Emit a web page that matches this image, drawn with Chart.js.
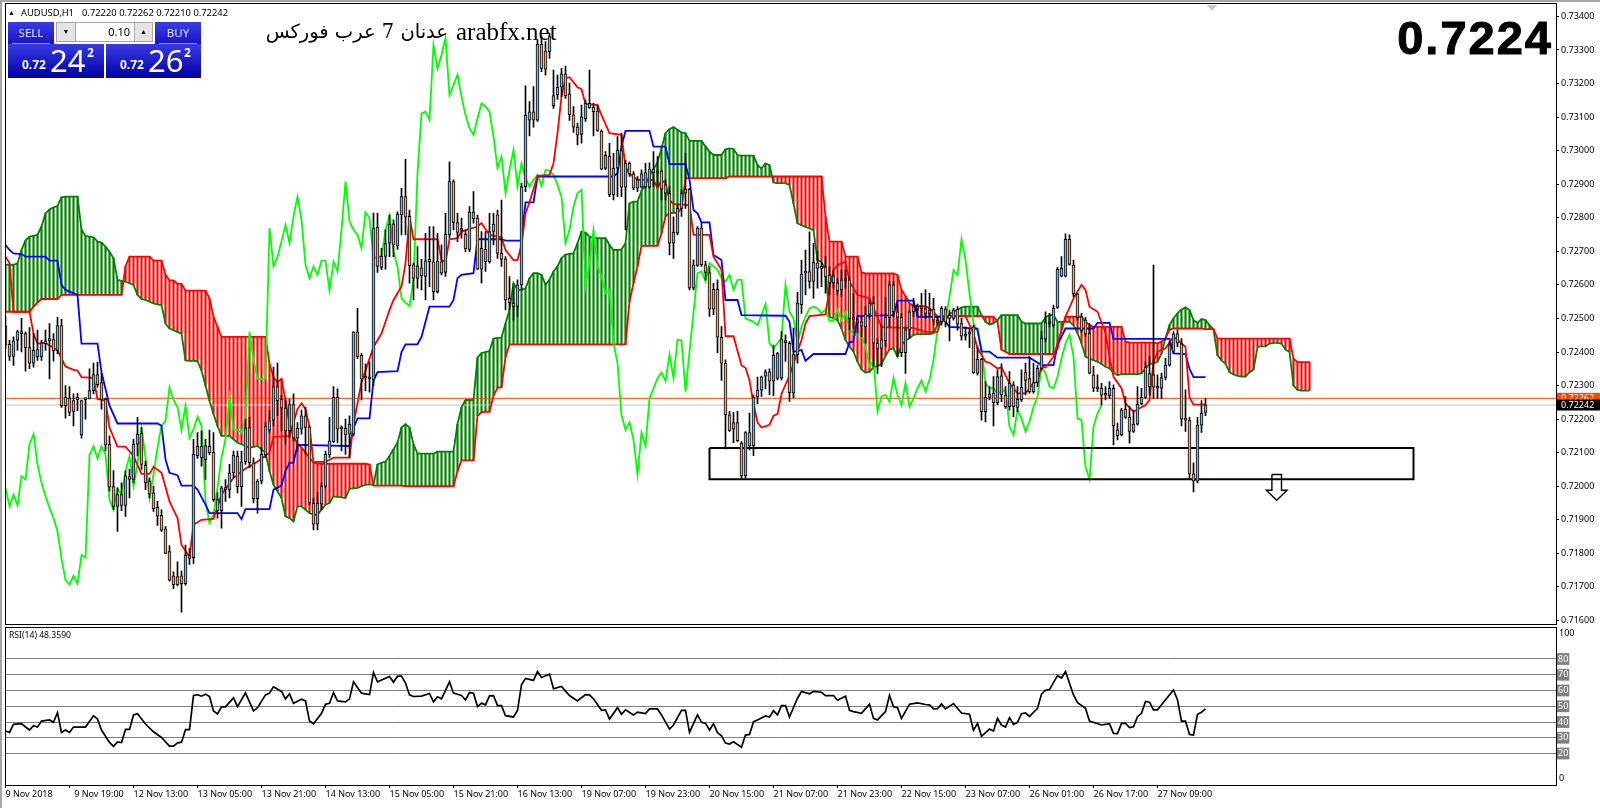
<!DOCTYPE html>
<html>
<head>
<meta charset="utf-8">
<title>AUDUSD,H1</title>
<script src="https://cdn.jsdelivr.net/npm/chart.js@4"></script>
<style>
    html, body { margin: 0; padding: 0; background: #fff; width: 1600px; height: 808px; overflow: hidden; font-family: "Noto Sans", sans-serif; }
    canvas { position: absolute; left: 0; display: block; }
    #mainChart { top: 0; }
    #rsiChart { top: 625px; }
    .abs { position: absolute; white-space: nowrap; }
    .strip { position: absolute; background: #a6a6a6; }
    .btn { position: absolute; background: linear-gradient(#3c3ce6, #1515c8); color: #e4e4ff; font-size: 11.5px; text-align: center; }
    .btn span { display: block; margin: 3px 4px 0; padding-bottom: 2px; height: 16px; line-height: 16px; border-bottom: 1px solid #9a9ae8; }
    .quote { position: absolute; background: linear-gradient(#3a3ae4, #0000a4); color: #fff; }
    .quote b { position: absolute; }
    .spin { position: absolute; background: #e4e4e4; border: 1px solid #a8a8a8; box-sizing: border-box; font-size: 7px; text-align: center; line-height: 18px; }
</style>
</head>
<body>
<canvas id="mainChart" width="1600" height="625"></canvas>
<canvas id="rsiChart" width="1600" height="183"></canvas>

<div class="strip" style="left:0;top:0;width:1600px;height:2px"></div>
<div class="strip" style="left:0;top:0;width:2px;height:808px"></div>
<div class="abs" style="left:1207px;top:5px;width:0;height:0;border-left:5px solid transparent;border-right:5px solid transparent;border-top:6px solid #c8c8c8"></div>

<!-- chart header -->
<div class="abs" style="left:8px;top:9px;font-size:7px;line-height:8px">▲</div>
<div class="abs" style="left:21px;top:6px;font-size:9.4px;line-height:13px;color:#000">AUDUSD,H1</div>
<div class="abs" style="left:82px;top:6px;font-size:9.4px;line-height:13px;color:#000">0.72220 0.72262 0.72210 0.72242</div>

<!-- one click trading panel -->
<div class="btn" style="left:8px;top:22px;width:46px;height:22px"><span>SELL</span></div>
<div class="btn" style="left:155px;top:22px;width:46px;height:22px"><span>BUY</span></div>
<div class="spin" style="left:56px;top:22px;width:20px;height:20px">▼</div>
<div class="abs" style="left:76px;top:22px;width:58px;height:20px;border-top:1px solid #a8a8a8;border-bottom:1px solid #a8a8a8;box-sizing:border-box;background:#fff;font-size:11px;line-height:17px;text-align:right;padding-right:4px">0.10</div>
<div class="spin" style="left:134px;top:22px;width:19px;height:20px">▲</div>
<div class="quote" style="left:8px;top:44px;width:96px;height:34px">
    <b style="left:14px;top:12px;font-size:12px;line-height:18px">0.72</b>
    <b style="left:42px;top:-3px;font-size:31px;line-height:38px;font-weight:400">24</b>
    <b style="left:79px;top:1px;font-size:12px;line-height:16px">2</b>
</div>
<div class="quote" style="left:106px;top:44px;width:95px;height:34px">
    <b style="left:14px;top:12px;font-size:12px;line-height:18px">0.72</b>
    <b style="left:42px;top:-3px;font-size:31px;line-height:38px;font-weight:400">26</b>
    <b style="left:78px;top:1px;font-size:12px;line-height:16px">2</b>
</div>

<!-- texts written over the chart -->
<div class="abs" dir="rtl" style="left:268px;width:180px;top:17px;font-family:'DejaVu Serif','DejaVu Sans',serif;font-size:19.5px;line-height:30px;color:#000;text-align:right">عدنان 7 عرب فوركس</div>
<div class="abs" style="left:456px;top:17px;font-family:'Liberation Serif',serif;font-size:25px;line-height:30px;color:#000">arabfx.net</div>
<div class="abs" style="right:47px;top:11px;font-family:'Liberation Sans',sans-serif;font-weight:700;font-size:47px;line-height:54px;letter-spacing:2px;color:#000;-webkit-text-stroke:1px #000">0.7224</div>
<div class="abs" style="left:9px;top:629px;font-size:8.6px;line-height:13px;color:#000">RSI(14) 48.3590</div>

<script>
// All prices are in 1/100000 units (72242 = 0.72242)
const opens = [
    72477,72423,72387,72435,72455,72455,72413,72367,72385,72385,
    72425,72433,72437,72405,72479,72265,72263,72255,72257,72153,
    72259,72260,72285,72333,72309,72260,72125,71999,71940,71975,
    71943,72029,72020,72125,72157,72063,72015,71980,71937,71913,
    71873,71805,71733,71731,71733,71710,71793,71787,72091,72119,
    72079,72120,72101,71960,71927,71993,71990,72040,72090,71999,
    72073,72175,72070,71963,72015,72093,72167,72197,72297,72259,
    72233,72165,72243,72143,72170,72210,72177,71950,71887,71947,
    72000,72093,72133,72265,72173,72173,72155,72155,72460,72390,
    72325,72320,72317,72772,72652,72685,72724,72782,72716,72809,
    72863,72804,72660,72619,72651,72625,72676,72669,72580,72669,
    72637,72749,72908,72786,72764,72751,72706,72817,72799,72647,
    72706,72669,72759,72809,72694,72678,72560,72545,72536,72600,
    72893,73091,73116,73091,73317,73297,73295,73134,73166,73189,
    73229,73169,73107,73070,73048,73095,73128,73129,73118,73058,
    72947,72984,72868,72948,73000,72891,72962,72931,72888,72891,
    72891,72891,72945,72938,72939,72898,72873,72724,72754,72828,
    72873,72885,72590,72658,72769,72660,72637,72587,72587,72444,
    72367,72213,72170,72190,72128,72031,72160,72121,72266,72286,
    72328,72341,72313,72321,72322,72434,72426,72277,72392,72540,
    72635,72640,72610,72666,72652,72654,72629,72606,72606,72585,
    72615,72615,72500,72493,72477,72475,72513,72545,72426,72411,
    72434,72503,72600,72520,72503,72398,72466,72520,72535,72533,
    72529,72515,72528,72495,72490,72528,72510,72500,72527,72485,
    72450,72453,72475,72336,72378,72222,72265,72277,72249,72329,
    72272,72237,72302,72235,72257,72339,72321,72282,72309,72351,
    72438,72485,72480,72533,72626,72626,72736,72659,72573,72505,
    72495,72456,72332,72292,72292,72275,72269,72292,72168,72153,
    72229,72205,72163,72185,72245,72265,72336,72332,72295,72292,
    72324,72361,72402,72454,72424,72200,72197,72037,72015,72182,
    72220
];
const highs = [
    72505,72435,72445,72465,72500,72460,72473,72455,72465,72435,
    72465,72485,72455,72503,72497,72300,72297,72275,72277,72257,
    72260,72350,72367,72370,72337,72263,72150,72047,71995,72010,
    72045,72050,72140,72205,72175,72075,72025,72000,71955,71930,
    71880,71823,71745,71775,71747,71825,71815,72140,72160,72165,
    72140,72167,72160,71980,72000,72020,72065,72105,72105,72105,
    72200,72205,72085,72020,72115,72190,72225,72355,72367,72270,
    72260,72260,72275,72190,72227,72235,72180,71965,71980,72010,
    72105,72205,72297,72290,72180,72200,72210,72460,72530,72395,
    72365,72370,72814,72813,72709,72764,72808,72794,72818,72888,
    72974,72823,72665,72714,72676,72754,72774,72774,72754,72719,
    72813,72967,72913,72813,72799,72764,72833,72878,72808,72759,
    72759,72813,72813,72823,72853,72684,72625,72595,72615,72903,
    73193,73146,73191,73330,73340,73325,73350,73240,73225,73245,
    73252,73201,73131,73082,73136,73151,73240,73141,73136,73062,
    72997,73022,72992,73042,73052,72972,72967,72938,72923,72943,
    72962,72964,72997,72982,72943,72913,72893,72803,72838,72883,
    72992,72888,72675,72774,72784,72670,72655,72605,72615,72476,
    72377,72223,72220,72223,72133,72163,72218,72272,72325,72328,
    72347,72350,72421,72399,72461,72451,72431,72471,72578,72674,
    72704,72758,72724,72699,72669,72684,72654,72644,72619,72644,
    72644,72625,72575,72503,72505,72535,72555,72565,72441,72480,
    72563,72609,72609,72545,72515,72475,72525,72560,72543,72575,
    72585,72575,72560,72505,72535,72535,72525,72530,72535,72500,
    72475,72470,72480,72415,72381,72312,72297,72327,72347,72365,
    72297,72342,72312,72297,72347,72367,72386,72367,72361,72461,
    72520,72515,72540,72652,72684,72752,72749,72674,72575,72515,
    72503,72485,72357,72332,72307,72297,72312,72302,72188,72232,
    72267,72237,72227,72297,72292,72371,72386,72659,72332,72337,
    72381,72431,72461,72466,72440,72287,72205,72070,72205,72255,
    72262
];
const lows = [
    72410,72375,72360,72405,72400,72343,72350,72355,72375,72375,
    72405,72320,72373,72395,72235,72203,72210,72180,72225,72143,
    72200,72260,72275,72295,72230,72105,71985,71930,71865,71927,
    71910,71965,72010,72090,72050,71990,71965,71925,71883,71865,
    71800,71717,71695,71703,71625,71705,71767,71770,72083,72060,
    72020,72093,71955,71905,71875,71955,71965,72025,71980,71940,
    72065,72055,71950,71920,72007,72085,72160,72180,72210,72165,
    72125,72145,72135,72105,72155,72095,71945,71870,71870,71930,
    71995,72085,72130,72130,72105,72095,72085,72150,72380,72257,
    72285,72280,72300,72637,72645,72647,72684,72684,72706,72749,
    72749,72605,72555,72590,72585,72555,72595,72555,72575,72630,
    72625,72739,72764,72729,72739,72699,72699,72784,72645,72605,
    72640,72665,72719,72679,72655,72526,72526,72494,72505,72585,
    72878,73044,73070,73087,73235,73225,73275,73126,73153,73161,
    73156,73090,73054,73017,73022,73087,73126,73044,73057,72943,
    72943,72863,72853,72863,72863,72764,72923,72883,72878,72888,
    72888,72888,72893,72893,72853,72853,72689,72679,72749,72804,
    72828,72585,72585,72655,72655,72615,72506,72511,72398,72315,
    72111,72163,72130,72133,72024,72024,72108,72091,72246,72268,
    72290,72273,72270,72317,72317,72372,72253,72263,72367,72515,
    72570,72590,72560,72590,72595,72575,72570,72590,72570,72565,
    72590,72466,72470,72456,72446,72426,72500,72356,72336,72356,
    72416,72475,72505,72386,72386,72336,72441,72505,72505,72510,
    72500,72505,72480,72480,72480,72475,72433,72495,72465,72435,
    72435,72413,72336,72331,72197,72192,72257,72180,72242,72252,
    72232,72227,72207,72222,72252,72272,72277,72277,72297,72346,
    72431,72475,72475,72530,72624,72624,72659,72565,72495,72458,
    72446,72335,72282,72282,72242,72257,72262,72123,72138,72150,
    72202,72128,72160,72182,72242,72262,72272,72262,72262,72262,
    72317,72358,72396,72416,72180,72163,72020,71983,72010,72160,
    72210
];
const closes = [
    72420,72387,72433,72461,72461,72413,72367,72405,72407,72427,
    72433,72440,72403,72479,72240,72240,72220,72223,72265,72255,
    72258,72285,72333,72303,72257,72123,71997,71940,71975,71943,
    72031,72020,72125,72155,72065,72010,71977,71933,71911,71869,
    71800,71720,71707,71707,71710,71795,71785,72095,72119,72085,
    72121,72100,71960,71927,71995,71990,72040,72093,71999,72073,
    72173,72070,71963,72015,72095,72179,72195,72297,72255,72233,
    72165,72243,72143,72173,72210,72175,71950,71887,71950,72000,
    72095,72135,72265,72170,72171,72153,72185,72460,72387,72320,
    72322,72325,72769,72655,72686,72724,72781,72719,72811,72863,
    72802,72657,72620,72657,72627,72672,72669,72580,72671,72635,
    72751,72908,72786,72756,72762,72707,72817,72797,72647,72709,
    72669,72759,72781,72694,72676,72555,72547,72536,72600,72893,
    73106,73116,73091,73317,73245,73243,73340,73164,73189,73229,
    73163,73107,73070,73047,73101,73141,73141,73116,73060,72945,
    72986,72869,72948,73002,72891,72962,72931,72888,72913,72931,
    72935,72945,72935,72933,72885,72873,72724,72757,72828,72873,
    72885,72590,72660,72769,72660,72637,72528,72528,72444,72367,
    72213,72166,72190,72136,72031,72160,72120,72266,72286,72326,
    72341,72313,72391,72395,72438,72428,72279,72392,72546,72632,
    72640,72610,72667,72649,72649,72624,72606,72627,72583,72615,
    72613,72500,72497,72487,72490,72513,72545,72426,72411,72436,
    72503,72600,72520,72503,72398,72466,72520,72535,72530,72529,
    72515,72525,72495,72488,72530,72490,72500,72525,72483,72447,
    72447,72460,72338,72378,72222,72265,72275,72249,72327,72272,
    72237,72307,72237,72259,72295,72315,72282,72309,72351,72441,
    72488,72491,72530,72646,72649,72736,72661,72573,72503,72464,
    72454,72337,72292,72290,72271,72271,72292,72180,72151,72227,
    72205,72163,72185,72244,72265,72354,72297,72295,72292,72324,
    72361,72421,72454,72426,72200,72197,72037,72015,72182,72217,
    72242
];

// Ichimoku: Chikou per bar
const chikou = [
    71995,71940,71975,71943,72030,72020,72125,72155,72065,72010,
    71970,71935,71905,71865,71785,71720,71707,71733,71710,71795,
    71787,72093,72119,72083,72119,72095,71960,71930,71993,71975,
    72045,72090,72000,72065,72173,72085,71965,72035,72115,72180,
    72195,72295,72257,72235,72167,72240,72143,72170,72207,72180,
    71955,71890,71915,71995,72085,72140,72265,72170,72167,72160,
    72205,72460,72375,72320,72320,72320,72769,72655,72684,72729,
    72779,72724,72804,72863,72794,72660,72620,72655,72630,72672,
    72672,72583,72669,72640,72764,72908,72789,72764,72749,72709,
    72816,72799,72679,72684,72684,72764,72806,72699,72655,72560,
    72547,72537,72615,72933,73111,73116,73091,73315,73245,73285,
    73335,73166,73196,73226,73161,73106,73067,73047,73096,73141,
    73131,73116,73042,72948,72982,72873,72943,73002,72893,72962,
    72918,72893,72913,72928,72895,72943,72940,72928,72898,72863,
    72724,72764,72833,72873,72883,72595,72665,72764,72655,72625,
    72575,72585,72426,72367,72212,72168,72190,72138,72035,72160,
    72120,72262,72292,72322,72339,72314,72392,72322,72437,72434,
    72282,72400,72518,72635,72640,72610,72665,72655,72645,72620,
    72610,72630,72585,72615,72615,72500,72495,72490,72480,72510,
    72543,72426,72411,72426,72441,72600,72520,72500,72426,72475,
    72505,72530,72535,72530,72515,72527,72493,72493,72527,72495,
    72517,72470,72450,72453,72450,72416,72356,72376,72222,72267,
    72272,72252,72322,72272,72242,72307,72237,72262,72292,72315,
    72282,72317,72376,72465,72490,72495,72565,72644,72629,72736,
    72674,72575,72485,72460,72411,72307,72292,72292,72277,72282,
    72287,72177,72153,72227,72202,72163,72192,72237,72267,72356,
    72336,72297,72292,72326,72381,72426,72451,72386,72202,72197,
    72058,72021,72178,72217,72242
];

// Senkou A and B per bar, 26 bars past the last candle
const senkouA = [
    72660,72660,72660,72664,72704,72732,72744,72746,72749,72774,
    72813,72825,72831,72835,72861,72863,72863,72863,72863,72764,
    72746,72744,72742,72729,72726,72714,72699,72679,72615,72612,
    72610,72605,72600,72570,72558,72555,72550,72545,72542,72540,
    72485,72470,72465,72460,72455,72375,72374,72374,72373,72345,
    72300,72255,72215,72180,72150,72150,72150,72140,72130,72125,
    72120,72115,72117,72120,72110,72100,72045,72005,71985,71965,
    71910,71905,71895,71940,71940,71930,71920,71915,71915,71930,
    71945,71950,71970,71968,71967,71965,71993,71994,71995,72000,
    72005,72005,72005,72065,72070,72073,72090,72110,72130,72175,
    72185,72175,72125,72097,72097,72097,72097,72097,72103,72103,
    72103,72103,72103,72185,72235,72257,72257,72257,72383,72397,
    72400,72403,72440,72442,72443,72485,72525,72605,72585,72585,
    72590,72620,72635,72635,72630,72600,72615,72640,72655,72680,
    72690,72692,72694,72724,72759,72756,72744,72739,72739,72739,
    72739,72719,72704,72704,72706,72724,72843,72848,72848,72880,
    72900,72925,72945,72965,73007,73052,73064,73070,73062,73054,
    73052,73029,73029,73029,73029,73012,72997,72987,72987,72987,
    73004,73007,73005,72987,72985,72985,72985,72985,72957,72947,
    72962,72957,72905,72903,72903,72903,72898,72843,72783,72778,
    72773,72768,72763,72674,72669,72644,72505,72500,72495,72470,
    72436,72416,72401,72371,72348,72339,72341,72354,72358,72364,
    72388,72408,72411,72386,72421,72434,72441,72451,72453,72453,
    72453,72453,72456,72480,72490,72495,72513,72520,72525,72533,
    72535,72535,72535,72535,72510,72490,72482,72485,72495,72510,
    72510,72510,72510,72510,72490,72485,72485,72485,72485,72485,
    72503,72510,72510,72490,72490,72490,72490,72480,72456,72426,
    72386,72381,72376,72371,72364,72356,72351,72338,72331,72334,
    72334,72334,72334,72334,72336,72351,72364,72366,72371,72396,
    72441,72480,72500,72515,72527,72533,72525,72495,72487,72498,
    72495,72480,72467,72390,72375,72365,72340,72333,72329,72327,
    72327,72340,72347,72415,72417,72417,72425,72427,72427,72425,
    72407,72400,72300,72287,72285,72285,72285
];
const senkouB = [
    72520,72520,72520,72520,72520,72520,72520,72535,72547,72558,
    72558,72558,72558,72558,72570,72570,72570,72570,72570,72570,
    72570,72570,72570,72570,72570,72570,72570,72570,72570,72570,
    72655,72684,72684,72684,72684,72684,72684,72672,72672,72672,
    72630,72613,72613,72603,72603,72583,72583,72583,72583,72583,
    72583,72560,72505,72475,72445,72445,72445,72445,72445,72445,
    72445,72445,72445,72445,72445,72445,72365,72325,72310,72320,
    72255,72185,72150,72125,72115,72100,72085,72070,72067,72067,
    72067,72067,72067,72067,72067,72067,72067,72067,72067,72067,
    72067,72065,72002,72002,72002,72002,72002,72002,72002,72002,
    72000,72000,72000,72000,72000,72000,72000,72000,72000,72000,
    72000,72000,72000,72045,72077,72077,72077,72077,72210,72220,
    72222,72222,72270,72293,72295,72385,72423,72423,72423,72423,
    72423,72423,72423,72423,72423,72423,72423,72423,72423,72423,
    72423,72423,72423,72423,72423,72423,72423,72423,72423,72423,
    72423,72423,72423,72423,72423,72423,72550,72605,72655,72716,
    72716,72716,72716,72716,72754,72804,72814,72815,72815,72828,
    72918,72918,72918,72918,72918,72918,72918,72918,72918,72918,
    72918,72923,72923,72923,72923,72923,72923,72923,72923,72923,
    72923,72923,72923,72923,72923,72923,72923,72923,72923,72923,
    72923,72923,72923,72923,72923,72803,72729,72729,72729,72729,
    72684,72684,72684,72684,72637,72634,72634,72634,72634,72634,
    72634,72634,72634,72629,72585,72567,72545,72537,72537,72537,
    72537,72530,72520,72505,72507,72507,72507,72507,72507,72507,
    72507,72507,72507,72507,72507,72505,72505,72505,72490,72406,
    72401,72394,72394,72394,72394,72394,72394,72394,72394,72394,
    72394,72394,72394,72411,72466,72505,72505,72505,72505,72505,
    72490,72480,72475,72475,72475,72475,72475,72475,72475,72475,
    72431,72428,72428,72428,72428,72428,72428,72428,72426,72431,
    72441,72466,72470,72470,72470,72470,72470,72470,72470,72470,
    72468,72468,72468,72440,72440,72440,72440,72440,72440,72440,
    72440,72440,72440,72440,72440,72440,72440,72440,72440,72440,
    72440,72440,72380,72370,72370,72370,72370
];

// Tenkan and Kijun turning points (bar, price)
const tenkanBars = [0,1,2,6,7,8,10,13,15,17,18,19,22,23,25,26,28,30,32,34,36,37,39,41,43,44,46,47,49,52,54,57,60,62,66,67,71,73,74,75,76,77,80,82,86,87,89,92,94,96,97,99,100,101,102,108,109,110,111,113,114,118,119,121,124,125,127,128,129,130,131,133,136,137,138,139,140,141,143,144,145,148,149,151,154,155,156,158,162,163,164,165,166,167,171,172,176,177,179,180,182,184,185,186,187,188,189,191,192,193,194,196,199,200,201,205,206,207,208,210,211,213,216,219,223,227,230,233,234,240,242,243,245,246,248,249,251,252,253,255,257,258,259,260,262,263,265,267,269,270,271,273,275,276,277,279,280,282,285,286,287,288,290,292,294,295,296,297,300];
const tenkanValues = [72684,72665,72520,72520,72455,72425,72427,72405,72357,72347,72345,72325,72323,72260,72255,72175,72118,72118,72090,72037,72037,72058,72040,71955,71905,71825,71790,71885,71900,71903,71975,72025,72053,72065,72100,72147,72150,72230,72247,72230,72177,72072,72073,72085,72085,72185,72310,72415,72455,72525,72555,72595,72665,72804,72736,72736,72674,72669,72736,72739,72759,72774,72784,72749,72742,72704,72674,72674,72719,72813,72846,72925,72928,72962,73052,73161,73216,73219,73189,73183,73139,73136,73106,73052,73047,72952,72931,72913,72913,72888,72913,72903,72853,72841,72838,72749,72749,72684,72645,72447,72447,72360,72353,72315,72245,72190,72175,72183,72210,72215,72275,72330,72436,72485,72507,72512,72590,72644,72659,72669,72610,72570,72560,72475,72472,72472,72460,72460,72505,72507,72455,72411,72371,72368,72351,72354,72307,72292,72277,72277,72307,72312,72356,72354,72386,72426,72505,72560,72600,72585,72535,72520,72456,72386,72326,72292,72247,72222,72242,72257,72371,72401,72411,72446,72426,72415,72265,72243,72243];
const kijunBars = [0,1,2,4,5,10,11,13,14,15,18,19,23,24,26,28,38,39,40,41,43,44,47,48,50,51,58,59,60,66,67,69,70,71,72,73,86,87,88,91,92,93,98,99,100,103,104,106,111,112,113,114,117,118,124,125,129,130,132,133,152,153,154,155,161,162,165,166,170,171,172,173,174,176,177,179,180,183,184,195,196,197,198,199,200,202,210,211,212,213,222,223,227,228,234,236,243,244,246,248,256,259,262,263,265,272,273,276,277,291,292,295,296,297,300];
const kijunValues = [72719,72704,72694,72692,72684,72684,72672,72672,72600,72585,72570,72425,72425,72340,72240,72187,72187,72180,72080,72040,72033,72002,72002,71990,71945,71920,71920,71902,71932,71932,71990,72002,72045,72070,72070,72123,72120,72173,72202,72202,72315,72340,72343,72400,72423,72423,72445,72535,72535,72555,72620,72630,72635,72736,72736,72732,72732,72846,72846,72923,72923,72933,73012,73059,73059,73012,73012,72960,72960,72913,72823,72813,72786,72786,72689,72674,72555,72555,72510,72508,72490,72402,72402,72406,72374,72394,72394,72429,72431,72507,72510,72553,72553,72505,72505,72475,72470,72401,72401,72383,72383,72361,72361,72421,72470,72470,72487,72487,72439,72439,72396,72394,72350,72325,72325];

// RSI(14) turning points (bar, value)
const rsiBars = [0,1,2,4,6,7,8,9,11,12,13,14,15,16,17,20,22,23,24,26,27,28,29,30,31,32,33,35,37,39,41,42,43,44,45,46,47,48,49,50,51,52,53,54,55,57,58,60,62,63,65,66,67,69,70,71,72,74,75,76,77,79,80,81,82,83,85,86,87,89,91,92,93,96,97,98,99,100,101,102,104,106,107,108,109,111,112,114,115,116,117,118,119,120,121,122,123,124,125,127,128,129,130,132,133,134,136,137,139,141,143,145,146,147,149,150,151,153,154,155,157,158,160,161,163,164,166,167,169,170,171,173,174,175,176,177,178,179,180,181,182,184,185,186,187,188,190,191,192,193,194,195,196,198,199,201,202,204,205,207,208,210,211,212,214,216,217,218,220,221,222,223,224,226,228,230,231,232,233,234,235,237,239,241,242,243,244,246,247,248,249,250,251,252,253,254,255,256,258,259,260,261,263,264,265,267,268,270,271,274,276,277,278,279,280,281,282,283,284,285,286,287,288,289,292,293,294,295,296,297,298,299,300];
const rsiValues = [34.3,33.4,38.5,38.9,34.9,37.7,36.8,40.6,41.3,39.8,46,33.4,34.9,33.4,36.8,36.8,44,41.9,34.9,27,24.5,27.4,27,35.3,35.3,44.5,45.3,38.7,33.8,30.2,24.7,24.7,26.8,27.2,35.1,35.1,56.8,57.4,56.4,57.7,56.2,47,45.1,49.6,49.6,55.3,49.8,58.5,47,49.1,57.2,58.3,62.3,59.4,54.7,57.9,51.9,54.5,53.4,40.6,38.9,45.5,51.3,51.9,58.7,53.4,52.8,54.7,65.5,58.3,57.4,71.5,65.5,68.9,65.3,69.1,69.1,64.7,57.2,56.2,56.4,58.1,52.8,56,54.7,65.5,58.3,56.8,54,58.7,58.3,49.8,51.9,50.9,56.6,56.8,50.4,50.4,44,43.2,47.4,63.6,67.7,66.4,72.1,68.3,70.4,61.1,62.6,56.8,53.4,57.4,57.2,54.7,47.4,47.7,41.9,49.1,44.9,47.7,44.5,46.2,45.3,48.3,48.3,44.5,35.5,38.1,47.4,47.4,33.4,44.5,39.8,39.1,34.9,38.9,33.2,31.3,26.6,26,27.4,24,31.7,32.1,40.2,41.3,43.8,43.2,47.2,44.5,50.4,50.4,43.2,55.1,59.4,57.9,59.4,58.9,56.8,56.8,53.8,56.4,47.4,46.6,45.5,51.3,42.3,41.3,46.6,56.8,49.6,49.1,42.3,51.3,52.1,51.1,50.9,48.3,48.5,51.5,48.3,51.7,45.7,44.9,34.7,39.1,30.9,35.5,34.3,42.3,38.1,36.8,42.8,38.5,39.8,45.3,45.7,43.6,48.7,57.7,60.2,60.6,69.4,67.9,72.1,57.2,52.3,48.7,40.6,38.1,38.9,32.8,32.6,39.1,39.1,36.4,37,43.4,45.5,53,52.6,47.7,47.7,50.9,60.4,54,40.6,40.6,32.1,31.7,44.9,46.2,48.36];

// Axis ticks and labels
const priceTicks = [71600,71700,71800,71900,72000,72100,72200,72300,72400,72500,72600,72700,72800,72900,73000,73100,73200,73300,73400];
const rsiTicks = [0,20,30,40,50,60,70,80,100];
const timeTickBars = [0,16,32,48,64,80,96,112,128,144,160,176,192,208,224,240,256,272,288];
const timeLabels = ['9 Nov 2018','\u00A0\u00A09 Nov 19:00','12 Nov 13:00','13 Nov 05:00','13 Nov 21:00','14 Nov 13:00','15 Nov 05:00','15 Nov 21:00','16 Nov 13:00','19 Nov 07:00','19 Nov 23:00','20 Nov 15:00','21 Nov 07:00','21 Nov 23:00','22 Nov 15:00','23 Nov 07:00','26 Nov 01:00','26 Nov 17:00','27 Nov 09:00'];

// Current price lines and the drawn objects
const bidPrice = 72242;
const askPrice = 72262;
const boxBars = [176,352,352,176,176];
const boxPrices = [72114,72114,72021,72021,72114];
const arrowBars = [316.6,319,319,320.4,317.8,315.2,316.6,316.6];
const arrowPrices = [72035,72035,71988,71988,71958,71988,71988,72035];

// Same bar to pixel mapping on both panes
const barMin = -0.125;
const barMax = 387.625;

const BULL = '#7fb4dc';
const BEAR = '#e9aa7d';
const HATCH_UP = '#008000';
const HATCH_DOWN = '#ff0000';

Chart.defaults.font.family = '"Noto Sans", sans-serif';
Chart.defaults.font.size = 9;
Chart.defaults.color = '#000';
Chart.defaults.animation = false;
Chart.defaults.plugins.legend.display = false;
Chart.defaults.plugins.tooltip.enabled = false;

function pairs(xs, ys) {
    return xs.map((x, i) => ({ x: x, y: ys[i] }));
}

function lineSet(points, color, order, width) {
    return {
        type: 'line',
        data: points,
        borderColor: color,
        borderWidth: width || 1.8,
        pointRadius: 0,
        tension: 0,
        fill: false,
        order: order
    };
}

// Chart.js pads the chart by half a tick label, the panes here run edge to edge
function noPadding(scale) {
    scale.paddingTop = 0;
    scale.paddingBottom = 0;
    scale.paddingLeft = 0;
    scale.paddingRight = 0;
}

const allBars = senkouA.map((v, i) => i);

// Black frame round the pane
const paneFrame = {
    id: 'paneFrame',
    afterDraw(chart) {
        const { ctx, chartArea: a } = chart;
        ctx.save();
        ctx.strokeStyle = '#000';
        ctx.lineWidth = 1;
        ctx.strokeRect(Math.round(a.left) + 0.5, Math.round(a.top) - 0.5, Math.round(a.right - a.left), Math.round(a.bottom - a.top));
        ctx.restore();
    }
};

// Price boxes at the right of the axis
const priceBoxes = {
    id: 'priceBoxes',
    afterDraw(chart) {
        const { ctx } = chart;
        const y = chart.scales.y;
        ctx.save();
        ctx.font = '9px "Noto Sans", sans-serif';
        ctx.textBaseline = 'middle';
        ctx.textAlign = 'left';
        const draw = (value, bg) => {
            const py = y.getPixelForValue(value);
            ctx.fillStyle = bg;
            ctx.fillRect(1557, py - 5.5, 43, 11);
            ctx.fillStyle = '#fff';
            ctx.fillText((value / 100000).toFixed(5), 1561, py);
        };
        draw(askPrice, '#ff4500');
        draw(bidPrice, '#000');
        ctx.restore();
    }
};

// 100 and 0 sit inside the RSI pane height, not on their exact level
const rsiEnds = {
    id: 'rsiEnds',
    afterDraw(chart) {
        const { ctx } = chart;
        const y = chart.scales.y;
        ctx.save();
        ctx.font = '9px "Noto Sans", sans-serif';
        ctx.fillStyle = '#000';
        ctx.textBaseline = 'middle';
        ctx.fillText('100', 1559, y.getPixelForValue(100) + 6);
        ctx.fillText('0', 1559, y.getPixelForValue(0) - 7);
        ctx.restore();
    }
};

new Chart(document.getElementById('mainChart').getContext('2d'), {
    data: {
        datasets: [
            {
                type: 'bar',
                data: opens.map((o, i) => ({ x: i, y: [o, closes[i]] })),
                backgroundColor: opens.map((o, i) => closes[i] >= o ? BULL : BEAR),
                borderColor: '#000',
                borderWidth: 1,
                borderSkipped: false,
                barThickness: 3,
                minBarLength: 2,
                grouped: false,
                order: 0
            },
            {
                type: 'bar',
                data: highs.map((h, i) => ({ x: i, y: [lows[i], h] })),
                backgroundColor: '#000',
                barThickness: 1,
                grouped: false,
                order: 1
            },
            lineSet(pairs(arrowBars, arrowPrices), '#000', 2, 1.4),
            lineSet(pairs(boxBars, boxPrices), '#000', 3, 2),
            lineSet(pairs(allBars, senkouB), HATCH_DOWN, 5),
            lineSet(pairs(allBars, senkouA), HATCH_UP, 5),
            lineSet(pairs(tenkanBars, tenkanValues), '#ff0000', 4),
            lineSet(pairs(kijunBars, kijunValues), '#0000ff', 4),
            lineSet(chikou.map((v, i) => ({ x: i, y: v })), '#00ff00', 4),
            lineSet([{ x: barMin, y: askPrice }, { x: barMax, y: askPrice }], '#ff4500', 6, 1),
            lineSet([{ x: barMin, y: bidPrice }, { x: barMax, y: bidPrice }], '#c0c0c0', 6, 1),
            {
                type: 'bar',
                data: allBars.map(i => ({ x: i, y: [senkouA[i], senkouB[i]] })),
                backgroundColor: allBars.map(i => senkouA[i] >= senkouB[i] ? HATCH_UP : HATCH_DOWN),
                barThickness: 1.5,
                grouped: false,
                order: 7
            }
        ]
    },
    options: {
        responsive: false,
        devicePixelRatio: 1,
        layout: { padding: { left: 5, top: 4, right: 0, bottom: 0.5 } },
        scales: {
            x: { type: 'linear', offset: false, min: barMin, max: barMax, display: false },
            y: {
                position: 'right',
                min: 71588,
                max: 73437,
                afterFit(scale) { scale.width = 44; noPadding(scale); },
                afterBuildTicks(scale) { scale.ticks = priceTicks.map(v => ({ value: v })); },
                grid: { drawOnChartArea: false, tickLength: 3, tickColor: '#000' },
                border: { color: '#000' },
                ticks: {
                    padding: 2,
                    autoSkip: false,
                    callback: v => (v / 100000).toFixed(5)
                }
            }
        }
    },
    plugins: [paneFrame, priceBoxes]
});

new Chart(document.getElementById('rsiChart').getContext('2d'), {
    type: 'line',
    data: {
        datasets: [lineSet(pairs(rsiBars, rsiValues), '#000', 0, 1.7)]
    },
    options: {
        responsive: false,
        devicePixelRatio: 1,
        layout: { padding: { left: 5, top: 2.5, right: 0, bottom: 0 } },
        scales: {
            x: {
                type: 'linear',
                offset: false,
                min: barMin,
                max: barMax,
                afterFit(scale) { scale.height = 23; noPadding(scale); },
                afterBuildTicks(scale) { scale.ticks = timeTickBars.map(v => ({ value: v })); },
                grid: { drawOnChartArea: false, tickLength: 3, tickColor: '#000' },
                border: { color: '#000' },
                ticks: {
                    autoSkip: false,
                    maxRotation: 0,
                    minRotation: 0,
                    align: 'start',
                    padding: 1,
                    callback: (v, i) => timeLabels[i]
                }
            },
            y: {
                position: 'right',
                min: 0,
                max: 100,
                afterFit(scale) { scale.width = 44; noPadding(scale); },
                afterBuildTicks(scale) { scale.ticks = rsiTicks.map(v => ({ value: v })); },
                grid: {
                    tickLength: 1,
                    tickColor: '#000',
                    color: c => (c.tick.value === 0 || c.tick.value === 100) ? 'rgba(0,0,0,0)' : '#808080'
                },
                border: { color: '#000' },
                ticks: {
                    padding: 1,
                    autoSkip: false,
                    color: '#fff',
                    showLabelBackdrop: c => c.tick.value !== 0 && c.tick.value !== 100,
                    backdropColor: '#808080',
                    backdropPadding: { x: 1, y: 0.5 },
                    callback: v => (v === 0 || v === 100) ? '' : String(v)
                }
            }
        }
    },
    plugins: [paneFrame, rsiEnds]
});
</script>
</body>
</html>
